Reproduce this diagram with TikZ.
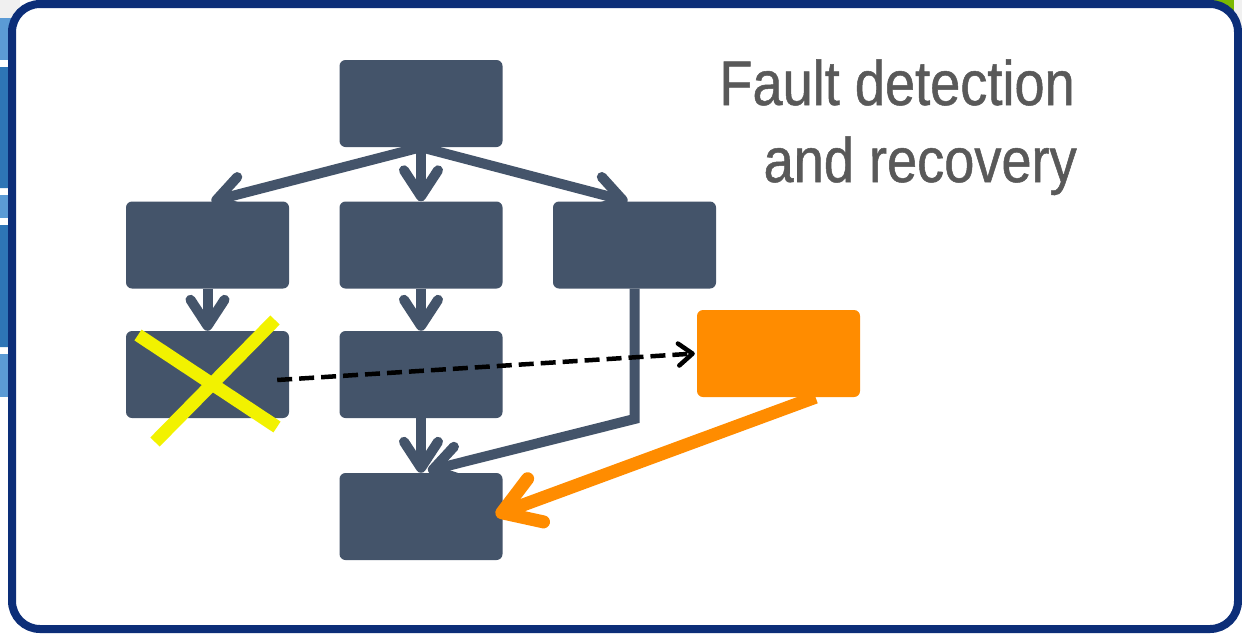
\documentclass[tikz,border=0pt]{standalone}
\usepackage{fontspec}
\newfontfamily\labelfont{Liberation Sans}[FakeStretch=0.86, FakeBold=0.8]
\usetikzlibrary{arrows.meta}
\definecolor{slate}{HTML}{44546A}
\definecolor{navyframe}{HTML}{0C2E78}
\definecolor{recovery}{HTML}{FF8C00}
\definecolor{faultmark}{HTML}{F2F200}
\definecolor{titlegray}{HTML}{595959}
\definecolor{paneblue}{HTML}{5B9BD5}
\definecolor{panedark}{HTML}{2E75B6}
\definecolor{panegray}{HTML}{F0F0F0}
\definecolor{panegreen}{HTML}{7AB800}
\tikzset{
  taskbox/.style={fill=slate, rounded corners=6pt, minimum width=163pt,
    minimum height=87pt, inner sep=0pt, draw=none},
  sparebox/.style={taskbox, fill=recovery},
  flow/.style={draw=slate, line width=10pt,
    -{Straight Barb[length=26pt, width=34pt, round]}},
  probe/.style={draw=black, line width=4.5pt, dash pattern=on 15pt off 7pt,
    -{Straight Barb[length=14pt, width=22pt, round]}},
  restart/.style={draw=recovery, line width=13pt,
    -{Straight Barb[length=36pt, width=46pt, round]}},
  failmark/.style={draw=faultmark, line width=13pt},
  heading/.style={font=\labelfont\fontsize{63}{76}\selectfont,
    text=titlegray, inner sep=0pt}
}
\begin{document}
\begin{tikzpicture}[x=1pt, y=-1pt]
\useasboundingbox (0,0) rectangle (1242,635);
% neighbouring panes peeking out behind the frame
\fill[white] (0,0) rectangle (1242,635);
\fill[panegray] (0,0) rectangle (20,18);
\fill[paneblue] (0,18) rectangle (20,397);
\fill[white] (0,60) rectangle (20,195);
\fill[white] (0,218) rectangle (20,354);
\fill[panedark, rounded corners=4pt] (-10,67) rectangle (20,188);
\fill[panedark, rounded corners=4pt] (-10,225) rectangle (20,347);
\fill[panegreen] (1200,0) rectangle (1234,14);
\fill[panegray] (1234,0) rectangle (1242,40);
% frame
\draw[navyframe, line width=8pt, fill=white, rounded corners=28pt]
  (12,4) rectangle (1238,629);

% task graph
\node[taskbox] (root) at (421,103.5) {};
\node[taskbox] (l2) at (207.5,245) {};
\node[taskbox] (m2) at (421,245) {};
\node[taskbox] (r2) at (634.5,245) {};
\node[taskbox] (l3) at (207.5,374.5) {};
\node[taskbox] (m3) at (421,374.5) {};
\node[taskbox] (sink) at (421,516.5) {};
\node[sparebox] (spare) at (778.5,353.5) {};

\draw[flow] (root.south) -- ([xshift=4pt]l2.north);
\draw[flow] (root.south) -- (m2.north);
\draw[flow] (root.south) -- ([xshift=-7pt]r2.north);
\draw[flow] (l2.south) -- (l3.north);
\draw[flow] (m2.south) -- (m3.north);
\draw[flow] (m3.south) -- (sink.north);
\coordinate (bend) at (634.5,419);
\draw[flow] (r2.south) -- (bend) -- ([xshift=7pt,yshift=2pt]sink.north);

% failed task and its replacement
\draw[failmark] (138,335) -- (277,427);
\draw[failmark] (275,320) -- (155,442);
\draw[probe] ([xshift=-12pt,yshift=-5.5pt]l3.east) -- ([xshift=-2pt]spare.west);
\draw[restart] ([xshift=37pt]spare.south) -- ([xshift=-7pt,yshift=1.5pt]sink.east);

% title
\node[heading, anchor=base east] (title1) at (1075,105) {Fault detection};
\node[heading, anchor=base east] (title2) at (1077,182) {and recovery};
\end{tikzpicture}
\end{document}
